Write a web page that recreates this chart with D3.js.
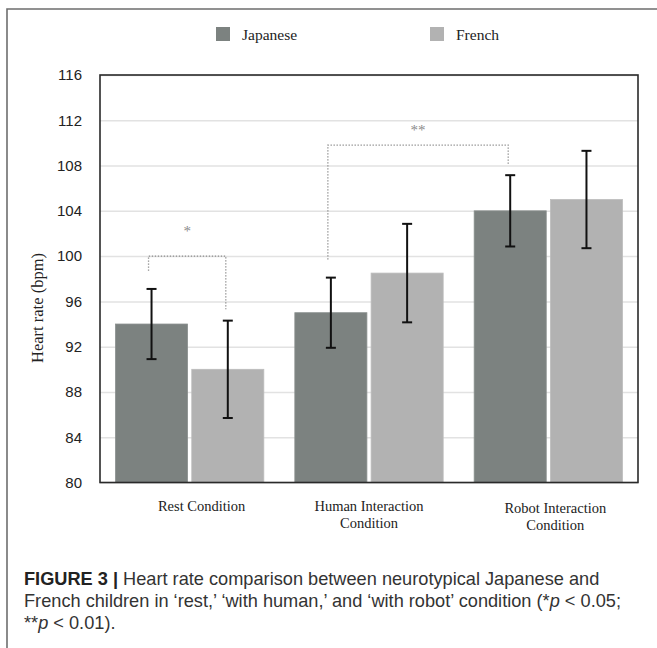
<!DOCTYPE html>
<html>
<head>
<meta charset="utf-8">
<script src="https://cdn.jsdelivr.net/npm/d3@7/dist/d3.min.js"></script>
<style>
  html, body { margin: 0; padding: 0; background: #fff; }
  svg { display: block; }
</style>
</head>
<body>
<svg id="chart" width="657" height="648"></svg>
<script>
// ---- data ----
const categories = ["Rest Condition", "Human Interaction|Condition", "Robot Interaction|Condition"];
const seriesNames = ["Japanese", "French"];
const japaneseMeans = [94, 95, 104];
const japaneseErr = [3.1, 3.1, 3.15];
const frenchMeans = [90, 98.5, 105];
const frenchErr = [4.3, 4.35, 4.3];
const yTicks = [80, 84, 88, 92, 96, 100, 104, 108, 112, 116];
// significance brackets: [groupIndex, seriesIndex] endpoints, bracket level, leg ends, label
const sigFrom = [[0, 0], [1, 0]];
const sigTo = [[0, 1], [2, 0]];
const sigLevel = [100, 109.8];
const sigFromEnd = [98.7, 99.7];
const sigToEnd = [95.3, 108];
const sigLabel = ["*", "**"];
const sigLabelValue = [102.4, 111.3];

// ---- layout ----
const svg = d3.select("#chart");
const plot = { left: 100, right: 638, top: 75, bottom: 482.5 };
const colors = ["#7c8280", "#b2b2b2"];
const labelOffsets = [12, 0, 7];
const serif = "'Liberation Serif', 'Times New Roman', serif";
const sans = "'Liberation Sans', Arial, Helvetica, sans-serif";

const x0 = d3.scaleBand().domain(d3.range(categories.length)).range([plot.left, plot.right]).paddingInner(0).paddingOuter(0);
const x1 = d3.scaleBand().domain(d3.range(seriesNames.length)).range([15.5, x0.bandwidth() - 15.5]).paddingInner(0.055);
const y = d3.scaleLinear().domain([80, 116]).range([plot.bottom, plot.top]);

const means = [japaneseMeans, frenchMeans];
const errs = [japaneseErr, frenchErr];

// outer frame (top and left visible)
svg.append("path")
  .attr("d", "M7,660 L7,9 L670,9")
  .attr("fill", "none").attr("stroke", "#6e6e6e").attr("stroke-width", 1.6);

// legend
const legendX = [216, 430];
seriesNames.forEach((s, i) => {
  svg.append("rect").attr("x", legendX[i]).attr("y", 27).attr("width", 14).attr("height", 14).attr("fill", colors[i]);
  svg.append("text").attr("x", legendX[i] + 26).attr("y", 40)
    .attr("font-family", serif).attr("font-size", 15.5).attr("fill", "#222").text(s);
});

// gridlines
const yAxis = d3.axisLeft(y).tickValues(yTicks).tickSize(-(plot.right - plot.left)).tickFormat(d3.format("d")).tickPadding(18);
const gAxis = svg.append("g").attr("transform", `translate(${plot.left},0)`).call(yAxis);
gAxis.select(".domain").remove();
gAxis.selectAll(".tick line").attr("stroke", "#e2e2e2").attr("stroke-width", 1.5);
gAxis.selectAll(".tick text").attr("font-family", sans).attr("font-size", 15).attr("fill", "#222");

// bars
const groups = svg.append("g");
categories.forEach((c, gi) => {
  seriesNames.forEach((s, si) => {
    const v = means[si][gi];
    const bx = x0(gi) + x1(si);
    groups.append("rect")
      .attr("x", bx).attr("y", y(v))
      .attr("width", x1.bandwidth()).attr("height", y(80) - y(v))
      .attr("fill", colors[si])
      .attr("stroke", si === 0 ? "#8a908e" : "#bcbcbc").attr("stroke-width", 0.8);
  });
});

// error bars
categories.forEach((c, gi) => {
  seriesNames.forEach((s, si) => {
    const v = means[si][gi], e = errs[si][gi];
    const cx = x0(gi) + x1(si) + x1.bandwidth() / 2;
    const g = svg.append("g").attr("stroke", "#111").attr("stroke-width", 2);
    g.append("line").attr("x1", cx).attr("x2", cx).attr("y1", y(v + e)).attr("y2", y(v - e));
    g.append("line").attr("x1", cx - 5).attr("x2", cx + 5).attr("y1", y(v + e)).attr("y2", y(v + e));
    g.append("line").attr("x1", cx - 5).attr("x2", cx + 5).attr("y1", y(v - e)).attr("y2", y(v - e));
  });
});

// significance brackets
const barCenter = (gi, si) => x0(gi) + x1(si) + x1.bandwidth() / 2;
sigLabel.forEach((lab, k) => {
  const xa = barCenter(sigFrom[k][0], sigFrom[k][1]) - 3;
  const xb = barCenter(sigTo[k][0], sigTo[k][1]) - 2;
  svg.append("path")
    .attr("d", `M${xa},${y(sigFromEnd[k])} L${xa},${y(sigLevel[k])} L${xb},${y(sigLevel[k])} L${xb},${y(sigToEnd[k])}`)
    .attr("fill", "none").attr("stroke", "#8a8a8a").attr("stroke-width", 1.3)
    .attr("stroke-dasharray", "1.3,1.7");
  svg.append("text").attr("x", (xa + xb) / 2).attr("y", y(sigLabelValue[k]) + 7)
    .attr("text-anchor", "middle").attr("font-family", serif).attr("font-size", 15)
    .attr("fill", "#8a8a8a").text(lab);
});

// plot frame
svg.append("rect").attr("x", plot.left).attr("y", plot.top)
  .attr("width", plot.right - plot.left).attr("height", plot.bottom - plot.top)
  .attr("fill", "none").attr("stroke", "#2a2a2a").attr("stroke-width", 1.6);

// y axis title
svg.append("text")
  .attr("transform", `translate(43,308) rotate(-90)`)
  .attr("text-anchor", "middle").attr("font-family", serif).attr("font-size", 16.5).attr("fill", "#222")
  .text("Heart rate (bpm)");

// category labels
categories.forEach((c, gi) => {
  const lines = c.split("|");
  const cx = x0(gi) + x0.bandwidth() / 2 + labelOffsets[gi];
  const baseY = gi === 2 ? 513 : 511;
  const t = svg.append("text").attr("text-anchor", "middle").attr("font-family", serif)
    .attr("font-size", 14.5).attr("fill", "#222");
  lines.forEach((ln, li) => {
    t.append("tspan").attr("x", cx).attr("y", baseY + li * 17).text(ln);
  });
});

// caption
const capLines = [
  [{t: "FIGURE 3 |", b: true}, {t: " Heart rate comparison between neurotypical Japanese and"}],
  [{t: "French children in \u2018rest,\u2019 \u2018with human,\u2019 and \u2018with robot\u2019 condition (*"}, {t: "p", i: true}, {t: " < 0.05;"}],
  [{t: "**"}, {t: "p", i: true}, {t: " < 0.01)."}]
];
const capY = [585, 607, 629];
capLines.forEach((parts, li) => {
  const t = svg.append("text").attr("x", 24).attr("y", capY[li])
    .attr("font-family", sans).attr("font-size", 18.2).attr("fill", "#333");
  parts.forEach(p => {
    t.append("tspan").attr("font-weight", p.b ? "bold" : null).attr("font-style", p.i ? "italic" : null)
      .attr("fill", p.b ? "#222" : null).text(p.t);
  });
});
</script>
</body>
</html>
